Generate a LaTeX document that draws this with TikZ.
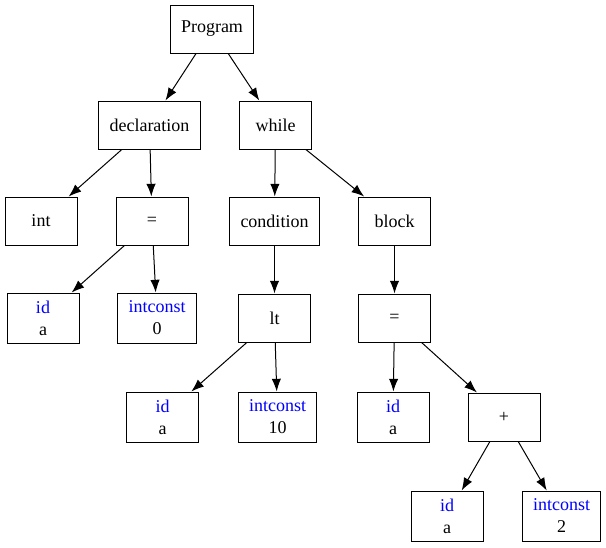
\documentclass[tikz,border=0pt]{standalone}
\usepackage{fontspec}
\setmainfont{Liberation Serif}
\usepackage{tikz}
\usetikzlibrary{arrows.meta}

\begin{document}
\begin{tikzpicture}[x=0.75pt,y=-0.75pt,
  ast/.style={draw,line width=0.75pt,inner xsep=8pt,inner ysep=2pt,
    minimum width=54pt,minimum height=36pt,align=center,
    font=\fontsize{13.5}{16.5}\selectfont},
  leaf/.style={ast,minimum height=37.5pt},
  edge/.style={line width=0.75pt,-{Latex[length=9.5pt,width=7pt]}}]

\useasboundingbox (0,0) rectangle (606,547);

\node [ast] (prog) at (212,29) {Program};

\node [ast] (decl) at (149.5,125) {declaration};
\node [ast] (while) at (275.5,125) {while};

\node [ast] (int) at (41,221) {int};
\node [ast] (eqd) at (152,221) {=};
\node [ast] (cond) at (274.5,221) {condition};
\node [ast] (block) at (394.5,221) {block};

\node [leaf] (ida) at (43,318) {\textcolor{blue}{id}\\a};
\node [leaf] (ic0) at (157,318) {\textcolor{blue}{intconst}\\0};
\node [ast] (lt) at (274.5,318) {lt};
\node [ast] (eqb) at (394.5,318) {=};

\node [leaf] (idb) at (162.5,417) {\textcolor{blue}{id}\\a};
\node [leaf] (ic10) at (277.5,417) {\textcolor{blue}{intconst}\\10};
\node [leaf] (idc) at (393,417) {\textcolor{blue}{id}\\a};
\node [ast] (plus) at (504,417) {+};

\node [leaf] (idd) at (447,516) {\textcolor{blue}{id}\\a};
\node [leaf] (ic2) at (561.5,516) {\textcolor{blue}{intconst}\\2};

\draw[edge] (prog) -- (decl);
\draw[edge] (prog) -- (while);
\draw[edge] (decl) -- (int);
\draw[edge] (decl) -- (eqd);
\draw[edge] (eqd) -- (ida);
\draw[edge] (eqd) -- (ic0);
\draw[edge] (while) -- (cond);
\draw[edge] (while) -- (block);
\draw[edge] (cond) -- (lt);
\draw[edge] (lt) -- (idb);
\draw[edge] (lt) -- (ic10);
\draw[edge] (block) -- (eqb);
\draw[edge] (eqb) -- (idc);
\draw[edge] (eqb) -- (plus);
\draw[edge] (plus) -- (idd);
\draw[edge] (plus) -- (ic2);

\end{tikzpicture}
\end{document}
